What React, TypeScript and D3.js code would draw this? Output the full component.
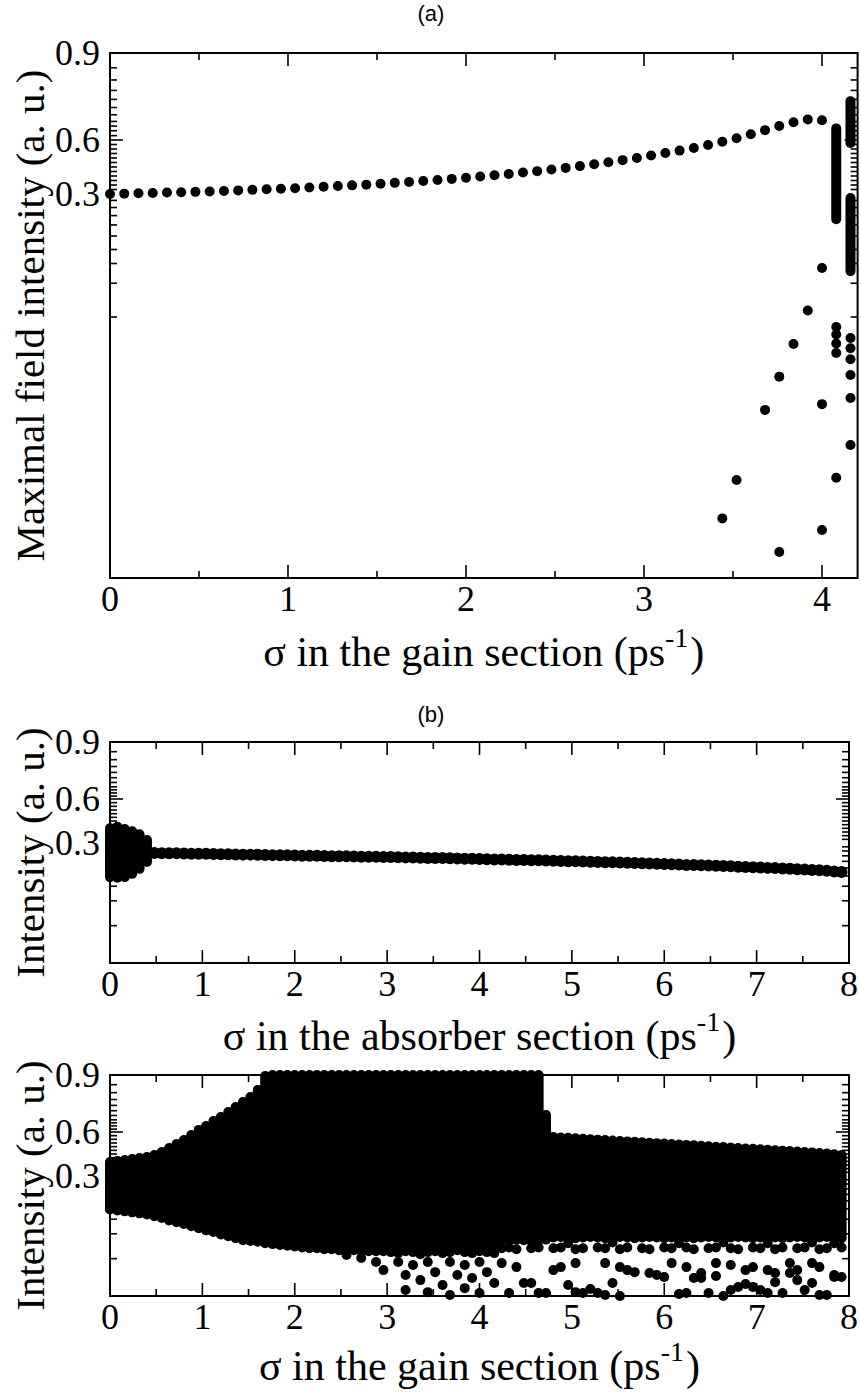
import React from 'react';
import * as d3 from 'd3';

const SERIF = 'Liberation Serif, Tinos, DejaVu Serif, serif';
const SANS = 'Liberation Sans, Arimo, DejaVu Sans, sans-serif';

// ---------- axis ticks ----------
const yLabelValues = [0.9, 0.6, 0.3];
const yMajorTicks = [0.6];
const yMinorUpper = [0.615, 0.632, 0.648, 0.664, 0.687, 0.712, 0.74, 0.771, 0.807, 0.849];
const yMinorMid = [0.325, 0.35, 0.375, 0.4, 0.425, 0.45, 0.475, 0.5, 0.525, 0.55, 0.575];
const yMinorLower = [0.27, 0.24, 0.21, 0.18, 0.15, 0.12, 0.09, 0.06, 0.03];
const xMajorA = [0, 1, 2, 3, 4];
const xMinorA = [0.5, 1.5, 2.5, 3.5];
const xMajorB = [0, 1, 2, 3, 4, 5, 6, 7, 8];
const xMinorB = [0.5, 1.5, 2.5, 3.5, 4.5, 5.5, 6.5, 7.5];

// ---------- panel (a) data ----------
const aCurveStep = 0.08;
const aCurve = [0.300, 0.302, 0.304, 0.306, 0.308, 0.310, 0.312, 0.314, 0.317, 0.320, 0.323, 0.326, 0.329,
  0.332, 0.336, 0.340, 0.344, 0.348, 0.352, 0.357, 0.362, 0.367, 0.372, 0.378, 0.384, 0.390, 0.397, 0.404,
  0.411, 0.419, 0.427, 0.436, 0.445, 0.455, 0.465, 0.476, 0.488, 0.500, 0.514, 0.528, 0.541, 0.556, 0.572,
  0.590, 0.606, 0.620, 0.634, 0.648, 0.661, 0.671, 0.668];
// vertical bands of overlapping dots: [x, top value, bottom value]
const aBands = [[4.08, 0.640, 0.198], [4.16, 0.734, 0.583], [4.16, 0.281, 0.077]];
const aScatter = [[4.0, 0.082], [3.92, 0.0343], [3.84, 0.0172], [3.76, 0.0088], [3.68, 0.00444], [4.0, 0.005],
  [3.52, 0.00105], [3.44, 0.000477], [3.76, 0.000239], [4.0, 0.000376],
  [4.08, 0.0244], [4.08, 0.0209], [4.08, 0.0174], [4.08, 0.0143], [4.08, 0.0011],
  [4.16, 0.0195], [4.16, 0.0158], [4.16, 0.0126], [4.16, 0.0091], [4.16, 0.00567], [4.16, 0.00216]];

// ---------- panel (b) data ----------
const bBlob = [[0, 0.40, 0.116], [0.08, 0.41, 0.114], [0.16, 0.395, 0.116], [0.24, 0.38, 0.127], [0.32, 0.36, 0.146], [0.40, 0.32, 0.177]];
const bLineStart = 0.48;
const bLine = [0.227, 0.226, 0.226, 0.225, 0.224, 0.223, 0.222,
  0.222, 0.221, 0.220, 0.219, 0.218, 0.217, 0.217, 0.216, 0.215, 0.214, 0.213, 0.213,
  0.212, 0.211, 0.211, 0.210, 0.209, 0.208, 0.208, 0.207, 0.206, 0.205, 0.205, 0.204, 0.203,
  0.203, 0.202, 0.201, 0.200, 0.199, 0.198, 0.197, 0.197, 0.196, 0.195, 0.194, 0.193,
  0.192, 0.191, 0.190, 0.189, 0.188, 0.187, 0.187, 0.186, 0.185, 0.184, 0.183, 0.182, 0.181,
  0.180, 0.179, 0.178, 0.177, 0.176, 0.175, 0.174, 0.173, 0.172, 0.171, 0.170, 0.168,
  0.167, 0.166, 0.165, 0.163, 0.162, 0.161, 0.160, 0.159, 0.158, 0.157, 0.155, 0.154, 0.153,
  0.152, 0.150, 0.149, 0.147, 0.146, 0.144, 0.143, 0.141, 0.140, 0.138, 0.136, 0.134];

// ---------- panel (c) data ----------
const cStep = 0.08;
const cTop = [0.395, 0.402, 0.409, 0.416, 0.423, 0.430, 0.443, 0.464, 0.491, 0.518, 0.545, 0.580, 0.611, 0.632,
  0.658, 0.679, 0.705, 0.732, 0.758, 0.784, 0.821, 0.895,
  0.9, 0.9, 0.9, 0.9, 0.9, 0.9, 0.9, 0.9, 0.9, 0.9, 0.9, 0.9, 0.9, 0.9, 0.9, 0.9, 0.9, 0.9, 0.9, 0.9, 0.9, 0.9,
  0.9, 0.9, 0.9, 0.9, 0.9, 0.9, 0.9, 0.9, 0.9, 0.9, 0.9, 0.9, 0.9, 0.9, 0.9,
  0.689, 0.566,
  0.563, 0.560, 0.557, 0.554, 0.551, 0.548, 0.545, 0.542, 0.539, 0.536, 0.533, 0.530, 0.527, 0.524, 0.521,
  0.518, 0.515, 0.512, 0.509, 0.506, 0.503, 0.500, 0.497, 0.494, 0.491, 0.488, 0.485, 0.482, 0.479, 0.476,
  0.473, 0.470, 0.467, 0.464, 0.461, 0.457, 0.453, 0.448, 0.443];
const cBottom = [0.118, 0.115, 0.112, 0.109, 0.106, 0.103,
  0.098, 0.093, 0.087, 0.083, 0.079, 0.074, 0.070,
  0.066, 0.063, 0.059, 0.056, 0.053, 0.050, 0.049,
  0.048, 0.046, 0.045, 0.044, 0.043, 0.042,
  0.041, 0.040, 0.040, 0.039, 0.039, 0.038, 0.038, 0.038, 0.037, 0.037, 0.037, 0.037,
  0.036, 0.035, 0.037, 0.036, 0.034, 0.036, 0.037, 0.035, 0.036, 0.038, 0.036, 0.035, 0.037, 0.036, 0.035,
  0.050, 0.049, 0.051, 0.050, 0.049, 0.050, 0.051,
  0.054, 0.055, 0.054, 0.053, 0.054, 0.055, 0.054, 0.053, 0.054, 0.055, 0.054, 0.053, 0.054, 0.055, 0.054,
  0.053, 0.054, 0.055, 0.054, 0.053, 0.054, 0.055, 0.054, 0.053, 0.054, 0.055, 0.054, 0.053, 0.054, 0.055,
  0.054, 0.053, 0.054, 0.055, 0.054, 0.053, 0.054, 0.055, 0.054, 0.053];
// row of dots just under the dense band
const cRow = [[4.24, 0.040], [4.32, 0.041], [4.40, 0.039], [4.56, 0.040], [4.64, 0.041], [4.80, 0.040], [4.88, 0.041],
  [5.04, 0.039], [5.12, 0.040], [5.28, 0.041], [5.36, 0.040], [5.52, 0.039], [5.60, 0.041], [5.76, 0.040],
  [5.84, 0.039], [6.00, 0.041], [6.08, 0.040], [6.24, 0.041], [6.32, 0.039], [6.48, 0.040], [6.56, 0.041],
  [6.72, 0.040], [6.80, 0.039], [6.96, 0.041], [7.04, 0.040], [7.20, 0.039], [7.28, 0.041], [7.44, 0.040],
  [7.52, 0.041], [7.68, 0.039], [7.76, 0.040], [7.92, 0.041], [4.96, 0.046], [5.44, 0.047], [6.16, 0.046],
  [6.64, 0.047], [7.12, 0.046], [7.60, 0.047], [7.84, 0.046]];
// scattered low-intensity maxima
const cScatter = [[2.56, 0.0332], [2.72, 0.0305], [2.88, 0.0273], [2.96, 0.0218],
  [3.12, 0.0273], [3.20, 0.0190], [3.20, 0.0125], [3.28, 0.0251], [3.36, 0.0165], [3.44, 0.0273], [3.44, 0.0118],
  [3.52, 0.0206], [3.60, 0.0144], [3.68, 0.0273], [3.68, 0.0109], [3.76, 0.0190], [3.84, 0.0251], [3.84, 0.0132],
  [3.92, 0.0175], [4.00, 0.0273], [4.00, 0.0115], [4.08, 0.0206], [4.16, 0.0152], [4.24, 0.0265],
  [4.32, 0.0115], [4.48, 0.0152], [4.56, 0.0152], [4.64, 0.0115], [4.72, 0.0115], [4.96, 0.0144], [5.04, 0.0118],
  [5.12, 0.0115], [5.20, 0.0129], [5.28, 0.0115], [5.36, 0.0109], [5.44, 0.0152], [5.52, 0.0106], [6.16, 0.0112],
  [6.24, 0.0115], [6.32, 0.0175], [6.40, 0.0175], [6.48, 0.0115], [6.56, 0.0185], [6.64, 0.0106], [6.72, 0.0125],
  [6.80, 0.0136], [6.88, 0.0148], [6.96, 0.0136], [7.04, 0.0125], [7.12, 0.0115], [7.20, 0.0156], [7.28, 0.0115],
  [7.36, 0.0201], [7.52, 0.0125], [7.60, 0.0152], [7.68, 0.0109], [7.76, 0.0109], [7.84, 0.0180], [7.92, 0.0180],
  [4.40, 0.0237], [4.80, 0.0218], [4.88, 0.0237], [5.04, 0.0265], [5.36, 0.0265], [5.52, 0.0237], [5.60, 0.0218],
  [5.68, 0.0206], [5.84, 0.0201], [5.92, 0.0190], [6.00, 0.0180], [6.08, 0.0265], [6.24, 0.0237], [6.40, 0.0201],
  [6.56, 0.0265], [6.72, 0.0251], [6.88, 0.0218], [6.96, 0.0237], [7.12, 0.0218], [7.20, 0.0201], [7.36, 0.0265],
  [7.44, 0.0218], [7.44, 0.0165], [7.60, 0.0265], [7.68, 0.0237], [7.84, 0.0190]];

// ---------- scales ----------
type YFn = (v: number) => number;
function makeY(upRange: number[], loDomain: number[], loRange: number[]): YFn {
  const up = d3.scaleLinear().domain([0.3, 0.6, 0.9]).range(upRange);
  const lo = d3.scaleLog().domain(loDomain).range(loRange);
  return (v: number) => (v >= 0.3 ? up(v) : lo(v));
}

const R = 5;

const xA = d3.scaleLinear().domain([0, 4.2]).range([110, 857.6]);
const yA = makeY([194, 140, 53], [0.3, 0.12, 0.03, 0.00014], [194, 249.5, 317, 578]);
const xB = d3.scaleLinear().domain([0, 8]).range([110, 849]);
const yB = makeY([843, 799, 742], [0.3, 0.0106], [843, 963]);
const xC = xB;
const yC = makeY([1176, 1132, 1075], [0.3, 0.0106], [1176, 1296]);

interface PanelProps {
  x: d3.ScaleLinear<number, number>;
  y: YFn;
  top: number;
  bottom: number;
  xMajor: number[];
  xMinor: number[];
  xTitle: string;
  yTitle: string;
  titleDy: number;
  children?: React.ReactNode;
}

function Panel({ x, y, top, bottom, xMajor, xMinor, xTitle, yTitle, titleDy, children }: PanelProps) {
  const [left, right] = x.range();
  const minor = [...yMinorUpper, ...yMinorMid, ...yMinorLower].filter((v) => {
    const p = y(v);
    return p > top && p < bottom;
  });
  const MAJ = 13, MIN = 7;
  const cy = (top + bottom) / 2;
  const cx = (left + right) / 2;
  return (
    <g>
      <g stroke="#000" strokeWidth={1.6}>
        {xMajor.map((t) => (
          <g key={'xM' + t}>
            <line x1={x(t)} x2={x(t)} y1={bottom} y2={bottom - MAJ} />
            <line x1={x(t)} x2={x(t)} y1={top} y2={top + MAJ} />
          </g>
        ))}
        {xMinor.map((t) => (
          <g key={'xm' + t}>
            <line x1={x(t)} x2={x(t)} y1={bottom} y2={bottom - MIN} />
            <line x1={x(t)} x2={x(t)} y1={top} y2={top + MIN} />
          </g>
        ))}
        {yMajorTicks.map((t) => (
          <g key={'yM' + t}>
            <line x1={left} x2={left + MAJ} y1={y(t)} y2={y(t)} />
            <line x1={right} x2={right - MAJ} y1={y(t)} y2={y(t)} />
          </g>
        ))}
        {minor.map((t) => (
          <g key={'ym' + t}>
            <line x1={left} x2={left + MIN} y1={y(t)} y2={y(t)} />
            <line x1={right} x2={right - MIN} y1={y(t)} y2={y(t)} />
          </g>
        ))}
      </g>
      <rect x={left} y={top} width={right - left} height={bottom - top} fill="none" stroke="#000" strokeWidth={2} />
      {children}
      <g style={{ fontFamily: SERIF }} fontSize={36} fill="#000">
        {xMajor.map((t) => (
          <text key={'xl' + t} x={x(t)} y={bottom + 33} textAnchor="middle">{t}</text>
        ))}
        {yLabelValues.map((t) => (
          <text key={'yl' + t} x={left - 10} y={y(t) + 12} textAnchor="end">{t.toFixed(1)}</text>
        ))}
      </g>
      <text x={cx} y={bottom + titleDy} textAnchor="middle" style={{ fontFamily: SERIF }} fontSize={42} fill="#000">
        {xTitle} (ps<tspan dy={-19} fontSize={28}>-1</tspan><tspan dy={19} dx={2}>)</tspan>
      </text>
      <text transform={`translate(44,${cy}) rotate(-90)`} textAnchor="middle" style={{ fontFamily: SERIF }} fontSize={41} fill="#000">
        {yTitle}
      </text>
    </g>
  );
}

function Band({ x, y0, y1 }: { x: number; y0: number; y1: number }) {
  const t = Math.min(y0, y1) - R;
  const h = Math.abs(y1 - y0) + 2 * R;
  return <rect x={x - R} y={t} width={2 * R} height={h} rx={R} ry={R} fill="#000" />;
}

export default function App() {
  const aXs = aCurve.map((_, i) => i * aCurveStep);
  const bXs = bLine.map((_, i) => bLineStart + i * 0.08);
  const nC = Math.min(cTop.length, cBottom.length);
  const cIdx = d3.range(nC);
  const cDots = [...cRow, ...cScatter];
  return (
    <svg width={861} height={1392} style={{ display: 'block', position: 'absolute', left: 0, top: 0 }}>
      <rect width={861} height={1392} fill="#fff" />
      <text x={431} y={21} textAnchor="middle" style={{ fontFamily: SANS }} fontSize={22}>(a)</text>
      <Panel x={xA} y={yA} top={53} bottom={578} xMajor={xMajorA} xMinor={xMinorA} titleDy={88}
        xTitle="σ in the gain section" yTitle="Maximal field intensity (a. u.)">
        {aCurve.map((v, i) => <circle key={'ac' + i} cx={xA(aXs[i])} cy={yA(v)} r={R} fill="#000" />)}
        {aBands.map((b, i) => <Band key={'ab' + i} x={xA(b[0])} y0={yA(b[1])} y1={yA(b[2])} />)}
        {aScatter.map((p, i) => <circle key={'as' + i} cx={xA(p[0])} cy={yA(p[1])} r={R} fill="#000" />)}
      </Panel>

      <text x={431} y={722} textAnchor="middle" style={{ fontFamily: SANS }} fontSize={22}>(b)</text>
      <Panel x={xB} y={yB} top={742} bottom={963} xMajor={xMajorB} xMinor={xMinorB} titleDy={87}
        xTitle="σ in the absorber section" yTitle="Intensity (a. u.)">
        {bBlob.map((b, i) => <Band key={'bb' + i} x={xB(b[0])} y0={yB(b[1])} y1={yB(b[2])} />)}
        {bLine.map((v, i) => <circle key={'bl' + i} cx={xB(bXs[i])} cy={yB(v)} r={R + 1} fill="#000" />)}
      </Panel>

      <Panel x={xC} y={yC} top={1075} bottom={1296} xMajor={xMajorB} xMinor={xMinorB} titleDy={84}
        xTitle="σ in the gain section" yTitle="Intensity (a. u.)">
        {cIdx.map((i) => <Band key={'cb' + i} x={xC(i * cStep)} y0={yC(cTop[i])} y1={yC(cBottom[i])} />)}
        {cDots.map((p, i) => <circle key={'cs' + i} cx={xC(p[0])} cy={yC(p[1])} r={R} fill="#000" />)}
      </Panel>
    </svg>
  );
}
